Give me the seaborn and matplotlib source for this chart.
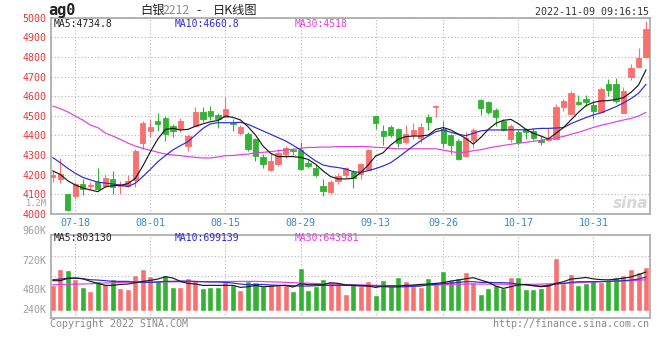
import numpy as np
import pandas as pd
import matplotlib
matplotlib.use("Agg")
import matplotlib.pyplot as plt
import seaborn as sns

# ---------------- data ----------------
opens = [4190, 4176, 4101, 4091, 4152, 4142, 4161, 4142, 4178, 4142,
         4142, 4171, 4363, 4424, 4474, 4489, 4448, 4433, 4348, 4450,
         4521, 4525, 4503, 4493, 4464, 4414, 4407, 4382, 4290, 4224,
         4256, 4307, 4324, 4325, 4259, 4234, 4142, 4113, 4169, 4200,
         4213, 4201, 4224, 4499, 4423, 4443, 4431, 4368, 4402, 4389,
         4496, 4545, 4433, 4401, 4372, 4297, 4377, 4581, 4571, 4530,
         4474, 4380, 4416, 4434, 4424, 4379, 4375, 4382, 4547, 4511,
         4571, 4586, 4557, 4521, 4663, 4663, 4516, 4696, 4751, 4799]
highs = [4218, 4285, 4103, 4162, 4176, 4160, 4235, 4201, 4218, 4167,
         4198, 4329, 4475, 4484, 4513, 4499, 4458, 4491, 4407, 4547,
         4547, 4550, 4516, 4598, 4482, 4455, 4419, 4385, 4304, 4309,
         4329, 4346, 4338, 4365, 4275, 4255, 4178, 4172, 4210, 4240,
         4222, 4261, 4332, 4500, 4453, 4452, 4440, 4453, 4465, 4462,
         4509, 4556, 4474, 4407, 4380, 4417, 4436, 4584, 4575, 4538,
         4484, 4460, 4428, 4440, 4436, 4399, 4436, 4561, 4586, 4627,
         4606, 4606, 4576, 4649, 4686, 4695, 4649, 4763, 4848, 4984]
lows = [4164, 4159, 4016, 4077, 4094, 4125, 4121, 4135, 4101, 4101,
        4137, 4138, 4332, 4394, 4424, 4370, 4394, 4419, 4322, 4448,
        4470, 4479, 4436, 4487, 4424, 4400, 4322, 4271, 4235, 4220,
        4244, 4283, 4300, 4224, 4234, 4189, 4092, 4099, 4152, 4181,
        4134, 4176, 4222, 4431, 4351, 4394, 4343, 4356, 4380, 4363,
        4428, 4492, 4338, 4305, 4275, 4291, 4338, 4504, 4509, 4448,
        4424, 4368, 4351, 4382, 4377, 4351, 4372, 4380, 4525, 4510,
        4555, 4552, 4484, 4518, 4601, 4567, 4516, 4683, 4742, 4797]
closes = [4198, 4203, 4021, 4150, 4125, 4146, 4125, 4184, 4138, 4149,
          4166, 4322, 4465, 4443, 4460, 4407, 4421, 4474, 4397, 4521,
          4484, 4501, 4486, 4535, 4460, 4443, 4329, 4297, 4256, 4270,
          4309, 4334, 4321, 4230, 4244, 4198, 4118, 4162, 4193, 4232,
          4183, 4254, 4326, 4465, 4397, 4401, 4360, 4407, 4429, 4443,
          4470, 4548, 4363, 4351, 4280, 4385, 4428, 4542, 4521, 4493,
          4428, 4448, 4368, 4419, 4389, 4367, 4389, 4545, 4576, 4617,
          4562, 4572, 4525, 4639, 4634, 4576, 4627, 4742, 4797, 4943]
ma5 = [4219, 4201, 4169, 4147, 4132, 4122, 4113, 4137, 4144, 4145,
       4154, 4181, 4244, 4317, 4382, 4431, 4436, 4428, 4431, 4447,
       4459, 4470, 4476, 4499, 4492, 4479, 4445, 4402, 4346, 4309,
       4292, 4292, 4292, 4288, 4278, 4253, 4219, 4190, 4178, 4178,
       4181, 4210, 4249, 4295, 4312, 4351, 4380, 4394, 4397, 4397,
       4402, 4431, 4440, 4428, 4407, 4385, 4356, 4390, 4431, 4462,
       4477, 4482, 4460, 4431, 4411, 4397, 4382, 4411, 4440, 4479,
       4518, 4552, 4569, 4576, 4578, 4584, 4593, 4620, 4657, 4735]
ma10 = [4287, 4261, 4232, 4207, 4186, 4173, 4162, 4157, 4152, 4147,
        4139, 4156, 4190, 4227, 4266, 4297, 4326, 4348, 4368, 4402,
        4436, 4459, 4465, 4465, 4465, 4467, 4457, 4440, 4423, 4406,
        4389, 4372, 4350, 4326, 4297, 4270, 4249, 4241, 4236, 4229,
        4215, 4212, 4220, 4231, 4244, 4261, 4288, 4317, 4346, 4373,
        4397, 4419, 4428, 4416, 4406, 4399, 4411, 4423, 4428, 4428,
        4428, 4429, 4429, 4428, 4433, 4436, 4436, 4438, 4440, 4460,
        4476, 4491, 4505, 4515, 4531, 4547, 4566, 4588, 4615, 4661]
ma30 = [4550, 4537, 4520, 4499, 4479, 4453, 4440, 4412, 4397, 4380,
        4361, 4346, 4334, 4324, 4314, 4305, 4300, 4297, 4292, 4288,
        4285, 4285, 4290, 4297, 4298, 4302, 4305, 4312, 4314, 4317,
        4322, 4326, 4329, 4334, 4339, 4339, 4341, 4341, 4343, 4343,
        4343, 4344, 4343, 4339, 4338, 4334, 4332, 4332, 4332, 4332,
        4332, 4332, 4325, 4318, 4312, 4315, 4322, 4327, 4336, 4343,
        4349, 4355, 4360, 4365, 4370, 4375, 4382, 4387, 4395, 4406,
        4416, 4428, 4441, 4452, 4460, 4470, 4479, 4487, 4499, 4518]
volumes_k = [526, 865, 844, 657, 491, 408, 609, 553, 657, 470,
             450, 740, 865, 719, 643, 733, 491, 491, 678, 636,
             470, 491, 491, 636, 540, 429, 609, 595, 505, 560,
             540, 526, 408, 885, 429, 519, 657, 595, 588, 346,
             567, 519, 616, 325, 636, 512, 699, 616, 512, 498,
             678, 567, 823, 636, 678, 802, 602, 346, 470, 533,
             470, 699, 699, 450, 450, 470, 567, 1086, 567, 761,
             533, 567, 636, 602, 636, 699, 740, 865, 809, 906]
vma5_k = [623, 623, 671, 678, 664, 609, 567, 526, 526, 546,
          553, 581, 609, 629, 657, 706, 678, 609, 567, 553,
          526, 526, 526, 526, 526, 484, 498, 526, 498, 505,
          519, 526, 491, 560, 540, 540, 540, 581, 567, 533,
          526, 512, 512, 484, 512, 512, 512, 526, 533, 546,
          553, 567, 581, 616, 636, 664, 685, 636, 588, 512,
          463, 498, 533, 546, 519, 498, 512, 567, 602, 657,
          671, 690, 660, 645, 640, 655, 675, 700, 750, 803]
vma10_k = [643, 657, 671, 678, 664, 643, 636, 623, 609, 609,
           609, 595, 588, 588, 595, 609, 609, 616, 616, 609,
           602, 595, 595, 588, 574, 553, 540, 540, 546, 533,
           526, 526, 519, 512, 512, 519, 526, 526, 526, 526,
           526, 526, 519, 512, 498, 491, 491, 498, 505, 512,
           533, 546, 560, 574, 588, 602, 602, 588, 588, 581,
           581, 574, 553, 533, 519, 512, 526, 553, 567, 588,
           602, 602, 602, 602, 609, 616, 623, 636, 657, 699]
vma30_k = [540, 543, 546, 550, 555, 560, 567, 574, 581, 588,
           590, 593, 595, 595, 595, 598, 600, 600, 602, 602,
           602, 605, 605, 607, 607, 609, 609, 609, 605, 600,
           595, 588, 582, 576, 570, 565, 560, 553, 550, 545,
           540, 535, 533, 528, 522, 518, 515, 518, 522, 527,
           531, 535, 540, 545, 550, 553, 553, 553, 553, 553,
           550, 548, 546, 546, 548, 553, 558, 563, 567, 575,
           583, 590, 597, 604, 610, 614, 618, 622, 630, 644]
tick_labels = ['07-18', '08-01', '08-15', '08-29', '09-13', '09-26', '10-17', '10-31']
price_ticks = [4000, 4100, 4200, 4300, 4400, 4500, 4600, 4700, 4800, 4900, 5000]
vol_tick_text = ['960K', '720K', '480K', '240K']
holidays = ['2022-09-12', '2022-10-03', '2022-10-04', '2022-10-05', '2022-10-06', '2022-10-07']

# ---------------- derived ----------------
dates = pd.bdate_range('2022-07-13', '2022-11-09')
dates = dates[~dates.isin(pd.to_datetime(holidays))]
idx = np.arange(len(dates))
md = np.array(dates.strftime('%m-%d'))
tick_pos = [int(np.where(md == t)[0][0]) for t in tick_labels]

o = np.array(opens, float); c = np.array(closes, float)
h = np.array(highs, float); l = np.array(lows, float)
vol = np.array(volumes_k, float) * 1000
up = c >= o
RED = '#f87070'
GREEN = '#33b233'
cols = np.where(up, RED, GREEN)
direction = np.where(up, 'up', 'down')

sns.set_theme(style="white")
plt.rcParams['font.family'] = ['DejaVu Sans Mono', 'Noto Sans CJK SC']
plt.rcParams['axes.unicode_minus'] = False

W, H = 660, 360
fig = plt.figure(figsize=(6.6, 3.6), dpi=100)
fig.patch.set_facecolor('white')


def fx(x):
    return x / W


def fy(y):
    return 1 - y / H


L, R = 50.7, 650.0
ax = fig.add_axes([fx(L), fy(214.2), (R - L) / W, (214.2 - 17.9) / H])
axv = fig.add_axes([fx(L), fy(318), (R - L) / W, (318 - 234.7) / H])

GRID = '#b4b4b4'
SPINE = '#a8a8a8'
LW = 0.85

# ---- main candle panel ----
ax.vlines(idx, l, h, colors=cols, linewidth=0.8, zorder=3)
ax.bar(idx, np.abs(c - o), bottom=np.minimum(o, c), width=0.7, color=cols,
       edgecolor=cols, linewidth=0.6, zorder=3)
sns.lineplot(x=idx, y=ma30, ax=ax, color='#e040e0', linewidth=LW, zorder=4)
sns.lineplot(x=idx, y=ma10, ax=ax, color='#2b2bd6', linewidth=LW, zorder=4)
sns.lineplot(x=idx, y=ma5, ax=ax, color='#1a1a1a', linewidth=LW, zorder=5)

ax.set_xlim(-0.27, 79.53)
ax.set_ylim(3998, 5000)
ax.set_yticks(price_ticks)
ax.set_yticklabels([str(p) for p in price_ticks])
ax.set_xticks(tick_pos)
ax.set_xticklabels(tick_labels)
ax.tick_params(axis='y', length=0, pad=2.9, labelsize=7.2, labelcolor='#e03a3a')
ax.tick_params(axis='x', length=0, pad=2.5, labelsize=7.2, labelcolor='#3c86c8')
ax.grid(True, linestyle=(0, (1, 2)), color=GRID, linewidth=0.8)
ax.set_xlabel('')
ax.set_ylabel('')
for s in ax.spines.values():
    s.set_color(SPINE)
    s.set_linewidth(1.2)
ax.set_axisbelow(True)

# ---- volume panel ----
sns.barplot(x=idx, y=vol, hue=direction, palette={'up': RED, 'down': GREEN},
            dodge=False, width=0.8, saturation=1, errorbar=None, legend=False,
            ax=axv, zorder=2)
sns.lineplot(x=idx, y=np.array(vma30_k) * 1000, ax=axv, color='#e040e0', linewidth=LW, zorder=4)
sns.lineplot(x=idx, y=np.array(vma10_k) * 1000, ax=axv, color='#2b2bd6', linewidth=LW, zorder=4)
sns.lineplot(x=idx, y=np.array(vma5_k) * 1000, ax=axv, color='#1a1a1a', linewidth=LW, zorder=5)
axv.set_xlim(-0.27, 79.53)
axv.set_ylim(-151e3, 1577e3)
axv.set_xticks(tick_pos)
axv.set_xticklabels([])
axv.set_yticks([311e3, 726e3, 1141e3])
axv.set_yticklabels([])
axv.tick_params(length=0)
axv.grid(True, linestyle=(0, (1, 2)), color=GRID, linewidth=0.8)
axv.set_axisbelow(True)
axv.set_xlabel('')
axv.set_ylabel('')
for s in axv.spines.values():
    s.set_color(SPINE)
    s.set_linewidth(1.2)

# ---- texts ----
mono = 'DejaVu Sans Mono'
cjk = ['Noto Sans CJK SC', 'DejaVu Sans']
fig.text(fx(48), fy(11), 'ag0', fontsize=11, fontweight='bold', family=mono,
         color='#222222', ha='left', va='center')
fig.text(fx(140), fy(10.5), '白银', fontsize=8.8, family=cjk,
         color='#222222', ha='left', va='center')
fig.text(fx(163), fy(10.5), '2212', fontsize=8.8, family=cjk, color='#8a8a8a',
         ha='left', va='center')
fig.text(fx(196), fy(10.5), '-', fontsize=8.8, family=cjk, color='#222222',
         ha='left', va='center')
fig.text(fx(213), fy(10.5), '日K线图', fontsize=8.8, family=cjk, color='#222222',
         ha='left', va='center')

fig.text(fx(649), fy(12.3), '2022-11-09 09:16:15', fontsize=7.2, family=mono,
         color='#333333', ha='right', va='center')

fig.text(fx(54), fy(24), 'MA5:4734.8', fontsize=7.0, family=mono, color='#222222', va='center')
fig.text(fx(175), fy(24), 'MA10:4660.8', fontsize=7.0, family=mono, color='#2b2bd6', va='center')
fig.text(fx(295), fy(24), 'MA30:4518', fontsize=7.0, family=mono, color='#e040e0', va='center')

fig.text(fx(54), fy(238.3), 'MA5:803130', fontsize=7.0, family=mono, color='#222222', va='center')
fig.text(fx(175), fy(238.3), 'MA10:699139', fontsize=7.0, family=mono, color='#2b2bd6', va='center')
fig.text(fx(295), fy(238.3), 'MA30:643981', fontsize=7.0, family=mono, color='#e040e0', va='center')

for txt, yy in zip(vol_tick_text, [231, 261, 290, 310]):
    fig.text(fx(46.7), fy(yy), txt, fontsize=7.2, family=mono, color='#a0a0a0',
             ha='right', va='center')
fig.text(fx(46.7), fy(203.5), '1.2M', fontsize=6.3, family=mono, color='#a0a0a0',
         ha='right', va='center')

fig.text(fx(50), fy(324), 'Copyright 2022 SINA.COM', fontsize=7.2, family=mono,
         color='#8a8a8a', ha='left', va='center')
fig.text(fx(649), fy(324), 'http://finance.sina.com.cn', fontsize=7.2, family=mono,
         color='#8a8a8a', ha='right', va='center')
fig.text(fx(648), fy(203), 'sina', fontsize=11, fontstyle='italic', fontweight='bold',
         family='DejaVu Sans', color='#d6d6d6', ha='right', va='center')

fig.savefig('out.png', dpi=100, facecolor='white')
